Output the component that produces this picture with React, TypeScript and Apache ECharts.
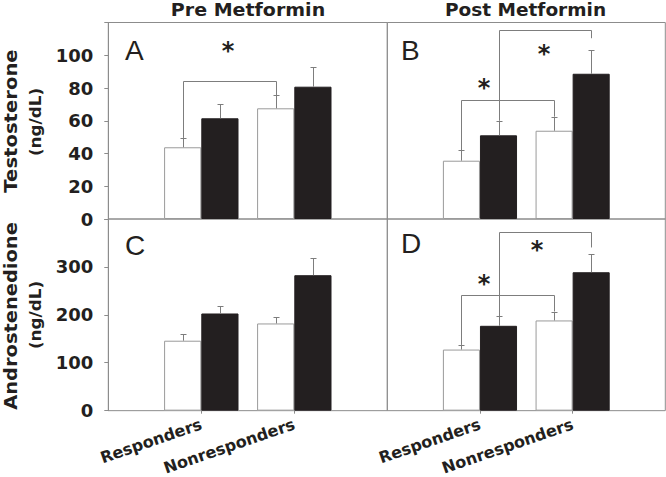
import React, { useEffect, useRef } from "react";
import * as echarts from "echarts";

// ---------- data ----------
const groups = ["Responders", "Nonresponders"];
const columnTitles = ["Pre Metformin", "Post Metformin"];
const rowTitles = ["Testosterone", "Androstenedione"];
const unitLabel = "(ng/dL)";
const panelLetters = ["A", "B", "C", "D"];

// Testosterone (ng/dL): open (white) and filled (black) bars, mean and SE
const testoPreOpen = [43.8, 67.6];
const testoPreOpenSE = [5.7, 7.9];
const testoPreFilled = [61.5, 80.8];
const testoPreFilledSE = [8.9, 12.2];
const testoPostOpen = [35.6, 53.9];
const testoPostOpenSE = [6.5, 8.6];
const testoPostFilled = [51.1, 88.7];
const testoPostFilledSE = [8.9, 14.3];

// Androstenedione (ng/dL)
const androPreOpen = [146, 182];
const androPreOpenSE = [13, 14.5];
const androPreFilled = [202.8, 282.7];
const androPreFilledSE = [16.5, 35];
const androPostOpen = [127.5, 188.3];
const androPostOpenSE = [9.7, 18.6];
const androPostFilled = [177.1, 288.9];
const androPostFilledSE = [19.5, 38.7];

// y axis ranges
const testoMax = 120;
const testoStep = 20;
const androMax = 400;
const androStep = 100;

// significance brackets: [fromKind, fromGroup, toKind, toGroup, level, rightEnd|null]
// kind 0 = open bar, 1 = filled bar
const bracketsA = [[0, 0, 0, 1, 84.3, null]];
const bracketsB = [
  [0, 0, 0, 1, 72.7, null],
  [1, 0, 1, 1, 115.4, 110.4],
];
const bracketsC: number[][] = [];
const bracketsD = [
  [0, 0, 0, 1, 240.7, null],
  [1, 0, 1, 1, 373.7, 340.6],
];
// star positions in data units (x position on group scale, y value)
const starsA = [[1.287, 105.8]];
const starsB = [
  [1.043, 83.2],
  [1.69, 103.7],
];
const starsC: number[][] = [];
const starsD = [
  [1.043, 275.2],
  [1.615, 346.2],
];

// ---------- style ----------
const FRAME = "#8c8c8c";
const ERR = "#7d7d7d";
const DARK = "#231f20";
const BOLD_FONT = '"DejaVu Sans", sans-serif';
const LETTER_FONT = '"Liberation Sans", Arial, sans-serif';
const HALF = 0.2; // half bar width in group units

export default function App() {
  const ref = useRef<HTMLDivElement>(null);

  useEffect(() => {
    if (!ref.current) return;
    const chart = echarts.init(ref.current, null, { renderer: "svg" });

    const panels = [
      { open: testoPreOpen, openSE: testoPreOpenSE, filled: testoPreFilled, filledSE: testoPreFilledSE, brackets: bracketsA, stars: starsA },
      { open: testoPostOpen, openSE: testoPostOpenSE, filled: testoPostFilled, filledSE: testoPostFilledSE, brackets: bracketsB, stars: starsB },
      { open: androPreOpen, openSE: androPreOpenSE, filled: androPreFilled, filledSE: androPreFilledSE, brackets: bracketsC, stars: starsC },
      { open: androPostOpen, openSE: androPostOpenSE, filled: androPostFilled, filledSE: androPostFilledSE, brackets: bracketsD, stars: starsD },
    ];

    const grids = [
      { left: 108.3, top: 22.5, width: 279, height: 196.5 },
      { left: 387.3, top: 22.5, width: 278, height: 196.5 },
      { left: 108.3, top: 219, width: 279, height: 193.3 },
      { left: 387.3, top: 219, width: 278, height: 193.3 },
    ].map((g) => ({
      ...g,
      show: true,
      borderColor: FRAME,
      borderWidth: 1,
      backgroundColor: "transparent",
      containLabel: false,
    }));

    const xAxes = grids.map((_, i) => {
      const bottom = i >= 2;
      return {
        type: "value",
        gridIndex: i,
        min: 0,
        max: 3,
        interval: 1,
        splitLine: { show: false },
        axisLine: { show: false },
        axisTick: bottom
          ? { show: true, length: 3, lineStyle: { color: FRAME }, customValues: [1, 2] }
          : { show: false },
        axisLabel: bottom
          ? {
              show: true,
              rotate: 19,
              margin: 13,
              fontFamily: BOLD_FONT,
              fontWeight: "bold",
              fontSize: 16,
              color: DARK,
              customValues: [1, 2],
              formatter: (v: number) => groups[Math.round(v) - 1] ?? "",
            }
          : { show: false },
      };
    });

    const yAxes = grids.map((_, i) => {
      const left = i % 2 === 0;
      const top = i < 2;
      const max = top ? testoMax : androMax;
      return {
        type: "value",
        gridIndex: i,
        min: 0,
        max,
        interval: top ? testoStep : androStep,
        splitLine: { show: false },
        axisLine: { show: left, lineStyle: { color: FRAME } },
        axisTick: left
          ? { show: true, length: 4, inside: false, lineStyle: { color: FRAME } }
          : { show: false },
        axisLabel: left
          ? {
              show: true,
              margin: 15,
              fontFamily: BOLD_FONT,
              fontWeight: "bold",
              fontSize: 18,
              color: DARK,
              formatter: (v: number) => (v >= max ? "" : String(v)),
            }
          : { show: false },
      };
    });

    const series: any[] = [];
    panels.forEach((p, i) => {
      series.push({
        type: "bar",
        name: "open",
        xAxisIndex: i,
        yAxisIndex: i,
        barWidth: "40%",
        barGap: "0%",
        itemStyle: { color: "#ffffff", borderColor: "#9a9a9a", borderWidth: 1 },
        data: groups.map((_, g) => [g + 1, p.open[g]]),
        z: 2,
      });
      series.push({
        type: "bar",
        name: "filled",
        xAxisIndex: i,
        yAxisIndex: i,
        barWidth: "40%",
        barGap: "0%",
        itemStyle: { color: DARK, borderColor: DARK, borderWidth: 1 },
        data: groups.map((_, g) => [g + 1, p.filled[g]]),
        z: 2,
      });
      // error bars
      const errData: number[][] = [];
      groups.forEach((_, g) => {
        errData.push([g + 1 - HALF, p.open[g], p.openSE[g]]);
        errData.push([g + 1 + HALF, p.filled[g], p.filledSE[g]]);
      });
      series.push({
        type: "custom",
        xAxisIndex: i,
        yAxisIndex: i,
        z: 3,
        data: errData,
        renderItem: (_params: any, api: any) => {
          const x = api.value(0);
          const v = api.value(1);
          const e = api.value(2);
          const b = api.coord([x, v]);
          const t = api.coord([x, v + e]);
          const xs = Math.round(b[0]) + 0.5;
          const ty = Math.round(t[1]) + 0.5;
          return {
            type: "group",
            children: [
              { type: "line", shape: { x1: xs, y1: b[1], x2: xs, y2: ty }, style: { stroke: ERR, lineWidth: 1 } },
              { type: "line", shape: { x1: xs - 3, y1: ty, x2: xs + 3, y2: ty }, style: { stroke: ERR, lineWidth: 1 } },
            ],
          };
        },
      });
      // brackets
      if (p.brackets.length) {
        const bData = p.brackets.map((br: any[]) => {
          const [k1, g1, k2, g2, level, rEnd] = br;
          const x1 = g1 + 1 + (k1 === 0 ? -HALF : HALF);
          const x2 = g2 + 1 + (k2 === 0 ? -HALF : HALF);
          const y1 = k1 === 0 ? p.open[g1] + p.openSE[g1] : p.filled[g1] + p.filledSE[g1];
          const y2 = rEnd != null ? rEnd : k2 === 0 ? p.open[g2] + p.openSE[g2] : p.filled[g2] + p.filledSE[g2];
          return [x1, y1, x2, y2, level];
        });
        series.push({
          type: "custom",
          xAxisIndex: i,
          yAxisIndex: i,
          z: 4,
          data: bData,
          renderItem: (_params: any, api: any) => {
            const a = api.coord([api.value(0), api.value(1)]);
            const b = api.coord([api.value(0), api.value(4)]);
            const c = api.coord([api.value(2), api.value(4)]);
            const d = api.coord([api.value(2), api.value(3)]);
            const sx = (v: number) => Math.round(v) + 0.5;
            return {
              type: "polyline",
              shape: {
                points: [
                  [sx(a[0]), a[1]],
                  [sx(b[0]), sx(b[1])],
                  [sx(c[0]), sx(c[1])],
                  [sx(d[0]), d[1]],
                ],
              },
              style: { stroke: ERR, lineWidth: 1, fill: null },
            };
          },
        });
      }
      if (p.stars.length) {
        series.push({
          type: "custom",
          xAxisIndex: i,
          yAxisIndex: i,
          z: 5,
          data: p.stars,
          renderItem: (_params: any, api: any) => {
            const c = api.coord([api.value(0), api.value(1)]);
            return {
              type: "text",
              x: c[0],
              y: c[1] + 5,
              style: {
                text: "*",
                fontFamily: BOLD_FONT,
                fontWeight: "bold",
                fontSize: 24,
                fill: DARK,
                align: "center",
                verticalAlign: "middle",
              },
            };
          },
        });
      }
    });

    const textStyle = (text: string, size: number, family: string, weight: string) => ({
      text,
      fontSize: size,
      fontFamily: family,
      fontWeight: weight,
      fill: DARK,
      align: "center",
      verticalAlign: "middle",
    });

    const graphic: any[] = [
      { type: "text", x: 248, y: 9.5, scaleX: 1.12, style: textStyle(columnTitles[0], 17, BOLD_FONT, "bold") },
      { type: "text", x: 525.5, y: 9.5, scaleX: 1.09, style: textStyle(columnTitles[1], 17, BOLD_FONT, "bold") },
      { type: "text", x: 10.5, y: 121, rotation: Math.PI / 2, scaleX: 1.09, style: textStyle(rowTitles[0], 18, BOLD_FONT, "bold") },
      { type: "text", x: 36, y: 122, rotation: Math.PI / 2, scaleX: 1.12, style: textStyle(unitLabel, 15, BOLD_FONT, "bold") },
      { type: "text", x: 10.5, y: 316, rotation: Math.PI / 2, scaleX: 1.08, style: textStyle(rowTitles[1], 18, BOLD_FONT, "bold") },
      { type: "text", x: 36, y: 315, rotation: Math.PI / 2, scaleX: 1.12, style: textStyle(unitLabel, 15, BOLD_FONT, "bold") },
      { type: "text", x: 125, y: 50, style: { ...textStyle(panelLetters[0], 28, LETTER_FONT, "normal"), align: "left" } },
      { type: "text", x: 401, y: 50, style: { ...textStyle(panelLetters[1], 28, LETTER_FONT, "normal"), align: "left" } },
      { type: "text", x: 125, y: 245, style: { ...textStyle(panelLetters[2], 28, LETTER_FONT, "normal"), align: "left" } },
      { type: "text", x: 401, y: 243.5, style: { ...textStyle(panelLetters[3], 28, LETTER_FONT, "normal"), align: "left" } },
    ];

    chart.setOption({
      animation: false,
      backgroundColor: "#ffffff",
      grid: grids,
      xAxis: xAxes,
      yAxis: yAxes,
      series,
      graphic,
    });

    return () => chart.dispose();
  }, []);

  return (
    <div
      ref={ref}
      style={{ position: "fixed", left: 0, top: 0, width: 666, height: 477, background: "#fff" }}
    />
  );
}
